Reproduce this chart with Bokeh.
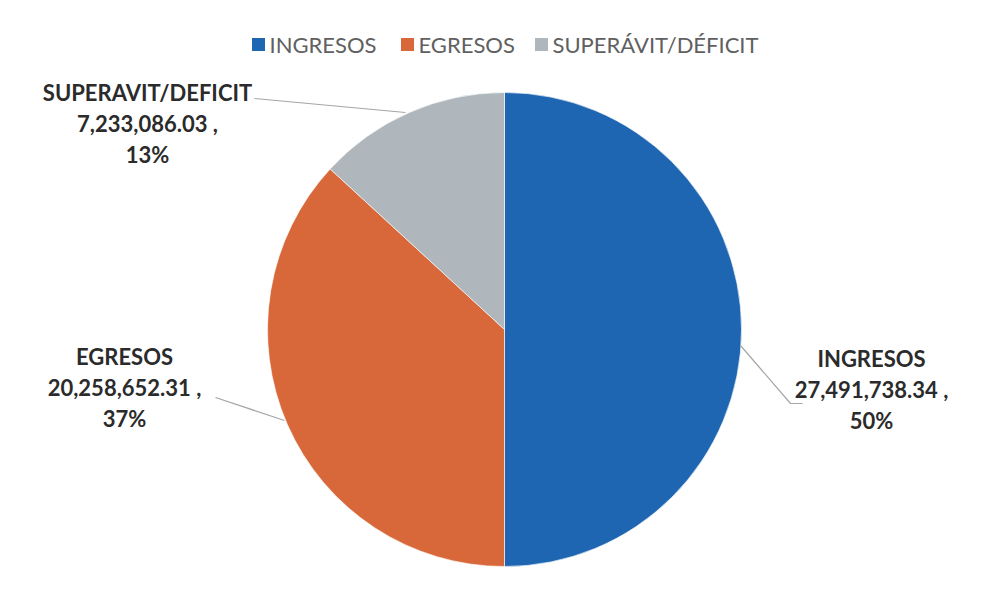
from bokeh.plotting import figure
from bokeh.models import Range1d
from bokeh.core.properties import value
from bokeh.embed import file_html
from bokeh.resources import INLINE
import math

# ---- data ----
legend_names = ["INGRESOS", "EGRESOS", "SUPERÁVIT/DÉFICIT"]
label_names = ["INGRESOS", "EGRESOS", "SUPERAVIT/DEFICIT"]
amounts = [27491738.34, 20258652.31, 7233086.03]
colors = ["#1F66B2", "#D8683A", "#AFB7BD"]

W, H = 989, 584
p = figure(width=W, height=H, output_backend="svg", toolbar_location=None,
           x_range=Range1d(0, W), y_range=Range1d(600 - H, 600),
           min_border=0)
p.axis.visible = False
p.grid.visible = False
p.outline_line_color = None
p.background_fill_color = "white"

cx, cy, r = 504, 600 - 329, 237
total = sum(amounts)
cum = 0.0
starts, ends = [], []
for a in amounts:
    s = math.pi / 2 - 2 * math.pi * cum / total
    cum += a
    e = math.pi / 2 - 2 * math.pi * cum / total
    starts.append(s)
    ends.append(e)

p.wedge(x=[cx] * 3, y=[cy] * 3, radius=r, start_angle=starts, end_angle=ends,
        direction="clock", fill_color=colors, line_color="white", line_width=0.6)

def Y(py):
    return 600 - py

# leader lines
p.line([254, 405], [Y(98), Y(112)], line_color="#A6A6A6", line_width=1.2)
p.line([215, 284], [Y(397), Y(420)], line_color="#A6A6A6", line_width=1.2)
p.line([740, 790, 802], [Y(345), Y(403), Y(403)], line_color="#A6A6A6", line_width=1.2)

# data labels
label_pos = [(871, 358), (124, 356), (147, 92)]
for name, amt, (lx, ly) in zip(label_names, amounts, label_pos):
    pct = round(amt / total * 100)
    lines = [name, f"{amt:,.2f} ,", f"{pct}%"]
    p.text(x=[lx] * 3, y=[Y(ly), Y(ly + 31), Y(ly + 62)], text=lines,
           text_font=value("Lato"), text_font_style="bold",
           text_font_size="22px", text_color="#2B2B2B",
           text_align="center", text_baseline="middle")

# legend
leg_x = [258, 407, 541]
leg_y = 44
for name, col, lx in zip(legend_names, colors, leg_x):
    p.rect(x=[lx], y=[Y(leg_y)], width=13, height=13, fill_color=col, line_color=None)
    p.text(x=[lx + 11], y=[Y(leg_y)], text=[name], text_font=value("Lato"),
           text_font_size="22px", text_color="#606060",
           text_align="left", text_baseline="middle")

open("out.html", "w").write(file_html(p, INLINE))
